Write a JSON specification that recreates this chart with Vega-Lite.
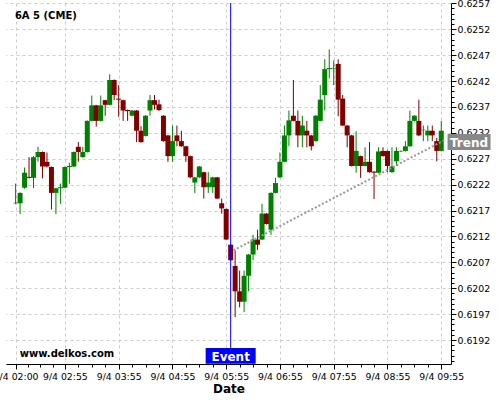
{
  "$schema": "https://vega.github.io/schema/vega-lite/v6.json",
  "width": 445,
  "height": 361,
  "autosize": {"type": "none"},
  "padding": {"left": 6, "top": 3, "right": 49, "bottom": 36},
  "background": "white",
  "config": {
    "font": "DejaVu Sans",
    "view": {"stroke": null},
    "axis": {"domainColor": "#000000", "tickColor": "#000000", "labelColor": "#000000", "titleColor": "#000000", "gridColor": "#cccccc", "gridDash": [3, 3]}
  },
  "datasets": {
    "candles": [
      {"t": "2015-09-04 02:00", "open": 0.62184, "high": 0.62222, "low": 0.62182, "close": 0.62185},
      {"t": "2015-09-04 02:05", "open": 0.62184, "high": 0.62205, "low": 0.62163, "close": 0.62204},
      {"t": "2015-09-04 02:10", "open": 0.62214, "high": 0.62253, "low": 0.62212, "close": 0.62243},
      {"t": "2015-09-04 02:15", "open": 0.62235, "high": 0.62273, "low": 0.62232, "close": 0.62233},
      {"t": "2015-09-04 02:20", "open": 0.62233, "high": 0.62275, "low": 0.62213, "close": 0.62273},
      {"t": "2015-09-04 02:25", "open": 0.62273, "high": 0.62293, "low": 0.62264, "close": 0.62283},
      {"t": "2015-09-04 02:30", "open": 0.62283, "high": 0.62284, "low": 0.62232, "close": 0.62255},
      {"t": "2015-09-04 02:35", "open": 0.62264, "high": 0.62282, "low": 0.62253, "close": 0.62255},
      {"t": "2015-09-04 02:40", "open": 0.62254, "high": 0.62255, "low": 0.62172, "close": 0.62204},
      {"t": "2015-09-04 02:45", "open": 0.62204, "high": 0.62214, "low": 0.62163, "close": 0.62213},
      {"t": "2015-09-04 02:50", "open": 0.62213, "high": 0.62222, "low": 0.62183, "close": 0.62215},
      {"t": "2015-09-04 02:55", "open": 0.62214, "high": 0.62255, "low": 0.62213, "close": 0.62254},
      {"t": "2015-09-04 03:00", "open": 0.62254, "high": 0.62262, "low": 0.62222, "close": 0.62256},
      {"t": "2015-09-04 03:05", "open": 0.62255, "high": 0.62284, "low": 0.62254, "close": 0.62283},
      {"t": "2015-09-04 03:10", "open": 0.62293, "high": 0.62302, "low": 0.62264, "close": 0.62283},
      {"t": "2015-09-04 03:15", "open": 0.62273, "high": 0.62293, "low": 0.62272, "close": 0.62283},
      {"t": "2015-09-04 03:20", "open": 0.62283, "high": 0.62344, "low": 0.62282, "close": 0.62343},
      {"t": "2015-09-04 03:25", "open": 0.62343, "high": 0.62392, "low": 0.62342, "close": 0.62373},
      {"t": "2015-09-04 03:30", "open": 0.62373, "high": 0.62374, "low": 0.62332, "close": 0.62343},
      {"t": "2015-09-04 03:35", "open": 0.62343, "high": 0.62392, "low": 0.62342, "close": 0.62373},
      {"t": "2015-09-04 03:40", "open": 0.62383, "high": 0.62384, "low": 0.62353, "close": 0.62374},
      {"t": "2015-09-04 03:45", "open": 0.62374, "high": 0.62433, "low": 0.62373, "close": 0.62422},
      {"t": "2015-09-04 03:50", "open": 0.62422, "high": 0.62423, "low": 0.62383, "close": 0.62393},
      {"t": "2015-09-04 03:55", "open": 0.62386, "high": 0.62412, "low": 0.62351, "close": 0.62384},
      {"t": "2015-09-04 04:00", "open": 0.62383, "high": 0.62384, "low": 0.62343, "close": 0.62363},
      {"t": "2015-09-04 04:05", "open": 0.62364, "high": 0.62365, "low": 0.62343, "close": 0.62362},
      {"t": "2015-09-04 04:10", "open": 0.62353, "high": 0.62364, "low": 0.62352, "close": 0.62363},
      {"t": "2015-09-04 04:15", "open": 0.62363, "high": 0.62364, "low": 0.62302, "close": 0.62324},
      {"t": "2015-09-04 04:20", "open": 0.62324, "high": 0.62333, "low": 0.62301, "close": 0.62302},
      {"t": "2015-09-04 04:25", "open": 0.62314, "high": 0.62354, "low": 0.62313, "close": 0.62353},
      {"t": "2015-09-04 04:30", "open": 0.62363, "high": 0.62393, "low": 0.62353, "close": 0.62383},
      {"t": "2015-09-04 04:35", "open": 0.62383, "high": 0.62393, "low": 0.62365, "close": 0.62374},
      {"t": "2015-09-04 04:40", "open": 0.62375, "high": 0.62384, "low": 0.62362, "close": 0.62364},
      {"t": "2015-09-04 04:45", "open": 0.62353, "high": 0.62354, "low": 0.62303, "close": 0.62304},
      {"t": "2015-09-04 04:50", "open": 0.62315, "high": 0.62316, "low": 0.62264, "close": 0.62275},
      {"t": "2015-09-04 04:55", "open": 0.62275, "high": 0.62334, "low": 0.62264, "close": 0.62304},
      {"t": "2015-09-04 05:00", "open": 0.62315, "high": 0.62334, "low": 0.62294, "close": 0.62304},
      {"t": "2015-09-04 05:05", "open": 0.62304, "high": 0.62324, "low": 0.62293, "close": 0.62294},
      {"t": "2015-09-04 05:10", "open": 0.62294, "high": 0.62295, "low": 0.62264, "close": 0.62275},
      {"t": "2015-09-04 05:15", "open": 0.62275, "high": 0.62276, "low": 0.62233, "close": 0.62234},
      {"t": "2015-09-04 05:20", "open": 0.62224, "high": 0.62235, "low": 0.62204, "close": 0.62234},
      {"t": "2015-09-04 05:25", "open": 0.62234, "high": 0.62256, "low": 0.62233, "close": 0.62255},
      {"t": "2015-09-04 05:30", "open": 0.62244, "high": 0.62245, "low": 0.62193, "close": 0.62215},
      {"t": "2015-09-04 05:35", "open": 0.62215, "high": 0.62244, "low": 0.62204, "close": 0.62224},
      {"t": "2015-09-04 05:40", "open": 0.62215, "high": 0.62235, "low": 0.62204, "close": 0.62234},
      {"t": "2015-09-04 05:45", "open": 0.62234, "high": 0.62235, "low": 0.62192, "close": 0.62193},
      {"t": "2015-09-04 05:50", "open": 0.62184, "high": 0.62193, "low": 0.62164, "close": 0.62174},
      {"t": "2015-09-04 05:55", "open": 0.62173, "high": 0.62174, "low": 0.62113, "close": 0.62114},
      {"t": "2015-09-04 06:00", "open": 0.62104, "high": 0.62105, "low": 0.62073, "close": 0.62074},
      {"t": "2015-09-04 06:05", "open": 0.62063, "high": 0.62093, "low": 0.61964, "close": 0.62014},
      {"t": "2015-09-04 06:10", "open": 0.62014, "high": 0.62054, "low": 0.61983, "close": 0.61994},
      {"t": "2015-09-04 06:15", "open": 0.61994, "high": 0.62054, "low": 0.61974, "close": 0.62044},
      {"t": "2015-09-04 06:20", "open": 0.62044, "high": 0.62086, "low": 0.62014, "close": 0.62085},
      {"t": "2015-09-04 06:25", "open": 0.62085, "high": 0.62123, "low": 0.62074, "close": 0.62114},
      {"t": "2015-09-04 06:30", "open": 0.62114, "high": 0.62133, "low": 0.62094, "close": 0.62104},
      {"t": "2015-09-04 06:35", "open": 0.62114, "high": 0.62183, "low": 0.62113, "close": 0.62164},
      {"t": "2015-09-04 06:40", "open": 0.62164, "high": 0.62165, "low": 0.62143, "close": 0.62144},
      {"t": "2015-09-04 06:45", "open": 0.62133, "high": 0.62205, "low": 0.62123, "close": 0.62204},
      {"t": "2015-09-04 06:50", "open": 0.62204, "high": 0.62233, "low": 0.62203, "close": 0.62223},
      {"t": "2015-09-04 06:55", "open": 0.62234, "high": 0.62282, "low": 0.62233, "close": 0.62264},
      {"t": "2015-09-04 07:00", "open": 0.62264, "high": 0.62334, "low": 0.62263, "close": 0.62315},
      {"t": "2015-09-04 07:05", "open": 0.62315, "high": 0.62363, "low": 0.62294, "close": 0.62344},
      {"t": "2015-09-04 07:10", "open": 0.62353, "high": 0.62422, "low": 0.62342, "close": 0.62343},
      {"t": "2015-09-04 07:15", "open": 0.62343, "high": 0.62363, "low": 0.62292, "close": 0.62315},
      {"t": "2015-09-04 07:20", "open": 0.62315, "high": 0.62353, "low": 0.62292, "close": 0.62334},
      {"t": "2015-09-04 07:25", "open": 0.62324, "high": 0.62343, "low": 0.62292, "close": 0.62315},
      {"t": "2015-09-04 07:30", "open": 0.62315, "high": 0.62316, "low": 0.62286, "close": 0.62294},
      {"t": "2015-09-04 07:35", "open": 0.62304, "high": 0.62354, "low": 0.62303, "close": 0.62353},
      {"t": "2015-09-04 07:40", "open": 0.62343, "high": 0.62412, "low": 0.62342, "close": 0.62384},
      {"t": "2015-09-04 07:45", "open": 0.62393, "high": 0.62462, "low": 0.62363, "close": 0.62443},
      {"t": "2015-09-04 07:50", "open": 0.62443, "high": 0.62481, "low": 0.62425, "close": 0.62445},
      {"t": "2015-09-04 07:55", "open": 0.62444, "high": 0.62460, "low": 0.62412, "close": 0.62445},
      {"t": "2015-09-04 08:00", "open": 0.62453, "high": 0.62462, "low": 0.62352, "close": 0.62384},
      {"t": "2015-09-04 08:05", "open": 0.62386, "high": 0.62393, "low": 0.62333, "close": 0.62334},
      {"t": "2015-09-04 08:10", "open": 0.62334, "high": 0.62335, "low": 0.62292, "close": 0.62315},
      {"t": "2015-09-04 08:15", "open": 0.62315, "high": 0.62316, "low": 0.62255, "close": 0.62256},
      {"t": "2015-09-04 08:20", "open": 0.62256, "high": 0.62323, "low": 0.62243, "close": 0.62285},
      {"t": "2015-09-04 08:25", "open": 0.62275, "high": 0.62276, "low": 0.62233, "close": 0.62256},
      {"t": "2015-09-04 08:30", "open": 0.62256, "high": 0.62292, "low": 0.62255, "close": 0.62264},
      {"t": "2015-09-04 08:35", "open": 0.62264, "high": 0.62302, "low": 0.62243, "close": 0.62244},
      {"t": "2015-09-04 08:40", "open": 0.62245, "high": 0.62246, "low": 0.62192, "close": 0.62243},
      {"t": "2015-09-04 08:45", "open": 0.62243, "high": 0.62292, "low": 0.62242, "close": 0.62284},
      {"t": "2015-09-04 08:50", "open": 0.62285, "high": 0.62292, "low": 0.62274, "close": 0.62275},
      {"t": "2015-09-04 08:55", "open": 0.62285, "high": 0.62286, "low": 0.62244, "close": 0.62256},
      {"t": "2015-09-04 09:00", "open": 0.62244, "high": 0.62292, "low": 0.62243, "close": 0.62255},
      {"t": "2015-09-04 09:05", "open": 0.62265, "high": 0.62292, "low": 0.62256, "close": 0.62285},
      {"t": "2015-09-04 09:10", "open": 0.62284, "high": 0.62286, "low": 0.62283, "close": 0.62285},
      {"t": "2015-09-04 09:15", "open": 0.62285, "high": 0.62304, "low": 0.62284, "close": 0.62294},
      {"t": "2015-09-04 09:20", "open": 0.62294, "high": 0.62363, "low": 0.62293, "close": 0.62343},
      {"t": "2015-09-04 09:25", "open": 0.62343, "high": 0.62354, "low": 0.62342, "close": 0.62353},
      {"t": "2015-09-04 09:30", "open": 0.62343, "high": 0.62384, "low": 0.62314, "close": 0.62315},
      {"t": "2015-09-04 09:35", "open": 0.62325, "high": 0.62334, "low": 0.62304, "close": 0.62326},
      {"t": "2015-09-04 09:40", "open": 0.62315, "high": 0.62334, "low": 0.62304, "close": 0.62324},
      {"t": "2015-09-04 09:45", "open": 0.62324, "high": 0.62334, "low": 0.62304, "close": 0.62315},
      {"t": "2015-09-04 09:50", "open": 0.62304, "high": 0.62310, "low": 0.62265, "close": 0.62285},
      {"t": "2015-09-04 09:55", "open": 0.62285, "high": 0.62343, "low": 0.62284, "close": 0.62324}
    ],
    "trend": [
      {"t": "2015-09-04 06:03", "price": 0.62093},
      {"t": "2015-09-04 10:00", "price": 0.62307}
    ]
  },
  "layer": [
    {
      "data": {"name": "candles"},
      "mark": {"type": "rule", "strokeWidth": 1},
      "encoding": {
        "x": {
          "field": "t", "type": "temporal",
          "scale": {"nice": false, "domain": [
            {"year": 2015, "month": 9, "date": 4, "hours": 1, "minutes": 54, "seconds": 52},
            {"year": 2015, "month": 9, "date": 4, "hours": 10, "minutes": 0, "seconds": 18}
          ]},
          "axis": {
            "title": "Date",
            "titleFontSize": 12,
            "titleFontWeight": "bold",
            "titlePadding": 2,
            "labelFontSize": 9.33,
            "labelPadding": 3,
            "labelFlush": false,
            "labelOverlap": false,
            "tickCount": 1000,
            "grid": true,
            "gridOpacity": {"condition": {"test": "minutes(datum.value) == 55 || (hours(datum.value) == 2 && minutes(datum.value) == 0)", "value": 1}, "value": 0},
            "tickSize": {"condition": {"test": "minutes(datum.value) == 55 || (hours(datum.value) == 2 && minutes(datum.value) == 0)", "value": 5}, "value": 3},
            "labelExpr": "(minutes(datum.value) == 55 || (hours(datum.value) == 2 && minutes(datum.value) == 0)) ? timeFormat(datum.value, '%-m/%-d %H:%M') : ''",
            "values": [
              {"year": 2015, "month": 9, "date": 4, "hours": 2, "minutes": 0},
              {"year": 2015, "month": 9, "date": 4, "hours": 2, "minutes": 13, "seconds": 45},
              {"year": 2015, "month": 9, "date": 4, "hours": 2, "minutes": 27, "seconds": 30},
              {"year": 2015, "month": 9, "date": 4, "hours": 2, "minutes": 41, "seconds": 15},
              {"year": 2015, "month": 9, "date": 4, "hours": 2, "minutes": 55},
              {"year": 2015, "month": 9, "date": 4, "hours": 3, "minutes": 10},
              {"year": 2015, "month": 9, "date": 4, "hours": 3, "minutes": 25},
              {"year": 2015, "month": 9, "date": 4, "hours": 3, "minutes": 40},
              {"year": 2015, "month": 9, "date": 4, "hours": 3, "minutes": 55},
              {"year": 2015, "month": 9, "date": 4, "hours": 4, "minutes": 10},
              {"year": 2015, "month": 9, "date": 4, "hours": 4, "minutes": 25},
              {"year": 2015, "month": 9, "date": 4, "hours": 4, "minutes": 40},
              {"year": 2015, "month": 9, "date": 4, "hours": 4, "minutes": 55},
              {"year": 2015, "month": 9, "date": 4, "hours": 5, "minutes": 10},
              {"year": 2015, "month": 9, "date": 4, "hours": 5, "minutes": 25},
              {"year": 2015, "month": 9, "date": 4, "hours": 5, "minutes": 40},
              {"year": 2015, "month": 9, "date": 4, "hours": 5, "minutes": 55},
              {"year": 2015, "month": 9, "date": 4, "hours": 6, "minutes": 10},
              {"year": 2015, "month": 9, "date": 4, "hours": 6, "minutes": 25},
              {"year": 2015, "month": 9, "date": 4, "hours": 6, "minutes": 40},
              {"year": 2015, "month": 9, "date": 4, "hours": 6, "minutes": 55},
              {"year": 2015, "month": 9, "date": 4, "hours": 7, "minutes": 10},
              {"year": 2015, "month": 9, "date": 4, "hours": 7, "minutes": 25},
              {"year": 2015, "month": 9, "date": 4, "hours": 7, "minutes": 40},
              {"year": 2015, "month": 9, "date": 4, "hours": 7, "minutes": 55},
              {"year": 2015, "month": 9, "date": 4, "hours": 8, "minutes": 10},
              {"year": 2015, "month": 9, "date": 4, "hours": 8, "minutes": 25},
              {"year": 2015, "month": 9, "date": 4, "hours": 8, "minutes": 40},
              {"year": 2015, "month": 9, "date": 4, "hours": 8, "minutes": 55},
              {"year": 2015, "month": 9, "date": 4, "hours": 9, "minutes": 10},
              {"year": 2015, "month": 9, "date": 4, "hours": 9, "minutes": 25},
              {"year": 2015, "month": 9, "date": 4, "hours": 9, "minutes": 40},
              {"year": 2015, "month": 9, "date": 4, "hours": 9, "minutes": 55}
            ]
          }
        },
        "y": {
          "field": "low", "type": "quantitative",
          "scale": {"zero": false, "nice": false, "domain": [0.618737, 0.625706]},
          "axis": {
            "orient": "right",
            "title": null,
            "labelFontSize": 9.33,
            "labelPadding": 1,
            "labelFlush": false,
            "labelOverlap": false,
            "tickCount": 1000,
            "grid": true,
            "gridOpacity": {"condition": {"test": "round(datum.value * 10000) % 5 == 2", "value": 1}, "value": 0},
            "tickSize": {"condition": {"test": "round(datum.value * 10000) % 5 == 2", "value": 5}, "value": 3},
            "labelExpr": "(round(datum.value * 10000) % 5 == 2) ? format(datum.value, '.4f') : ''",
            "values": [0.6188, 0.6189, 0.6190, 0.6191, 0.6192, 0.6193, 0.6194, 0.6195, 0.6196, 0.6197, 0.6198, 0.6199, 0.6200, 0.6201, 0.6202, 0.6203, 0.6204, 0.6205, 0.6206, 0.6207, 0.6208, 0.6209, 0.6210, 0.6211, 0.6212, 0.6213, 0.6214, 0.6215, 0.6216, 0.6217, 0.6218, 0.6219, 0.6220, 0.6221, 0.6222, 0.6223, 0.6224, 0.6225, 0.6226, 0.6227, 0.6228, 0.6229, 0.6230, 0.6231, 0.6232, 0.6233, 0.6234, 0.6235, 0.6236, 0.6237, 0.6238, 0.6239, 0.6240, 0.6241, 0.6242, 0.6243, 0.6244, 0.6245, 0.6246, 0.6247, 0.6248, 0.6249, 0.6250, 0.6251, 0.6252, 0.6253, 0.6254, 0.6255, 0.6256, 0.6257]
          }
        },
        "y2": {"field": "high"},
        "color": {"condition": {"test": "datum.close >= datum.open", "value": "#008000"}, "value": "#800000"}
      }
    },
    {
      "data": {"name": "candles"},
      "mark": {"type": "bar", "width": 5},
      "encoding": {
        "x": {"field": "t", "type": "temporal"},
        "y": {"field": "open", "type": "quantitative"},
        "y2": {"field": "close"},
        "color": {"condition": {"test": "datum.close >= datum.open", "value": "#008000"}, "value": "#800000"}
      }
    },
    {
      "data": {"name": "trend"},
      "mark": {"type": "line", "color": "#999999", "strokeWidth": 2, "strokeDash": [2, 2], "strokeCap": "butt"},
      "encoding": {
        "x": {"field": "t", "type": "temporal"},
        "y": {"field": "price", "type": "quantitative"}
      }
    },
    {
      "data": {"values": [{}]},
      "mark": {"type": "rule", "color": "#0000ff", "strokeWidth": 1},
      "encoding": {
        "x": {"datum": {"year": 2015, "month": 9, "date": 4, "hours": 6, "minutes": 0}, "type": "temporal"}
      }
    },
    {
      "data": {"values": [{}]},
      "mark": {"type": "bar", "width": 50, "color": "#0000ff"},
      "encoding": {
        "x": {"datum": {"year": 2015, "month": 9, "date": 4, "hours": 6, "minutes": 0}, "type": "temporal"},
        "y": {"datum": 0.61874},
        "y2": {"datum": 0.619046}
      }
    },
    {
      "data": {"values": [{}]},
      "mark": {"type": "text", "text": "Event", "color": "#ffffff", "fontSize": 12, "fontWeight": "bold", "align": "center", "baseline": "alphabetic"},
      "encoding": {
        "x": {"datum": {"year": 2015, "month": 9, "date": 4, "hours": 6, "minutes": 0}, "type": "temporal"},
        "y": {"datum": 0.618804}
      }
    },
    {
      "data": {"values": [{}]},
      "mark": {"type": "bar", "width": 43, "color": "#888888"},
      "encoding": {
        "x": {"datum": {"year": 2015, "month": 9, "date": 4, "hours": 10, "minutes": 26}, "type": "temporal"},
        "y": {"datum": 0.622868},
        "y2": {"datum": 0.623177}
      }
    },
    {
      "data": {"values": [{}]},
      "mark": {"type": "text", "text": "Trend", "color": "#ffffff", "fontSize": 12, "fontWeight": "bold", "align": "center", "baseline": "alphabetic"},
      "encoding": {
        "x": {"datum": {"year": 2015, "month": 9, "date": 4, "hours": 10, "minutes": 26}, "type": "temporal"},
        "y": {"datum": 0.62292}
      }
    },
    {
      "data": {"values": [{}]},
      "mark": {"type": "text", "text": "6A 5 (CME)", "color": "#000000", "fontSize": 10, "fontWeight": "bold", "align": "left", "baseline": "alphabetic"},
      "encoding": {
        "x": {"datum": {"year": 2015, "month": 9, "date": 4, "hours": 1, "minutes": 59, "seconds": 14}, "type": "temporal"},
        "y": {"datum": 0.625403}
      }
    },
    {
      "data": {"values": [{}]},
      "mark": {"type": "text", "text": "www.delkos.com", "color": "#000000", "fontSize": 10, "fontWeight": "bold", "align": "left", "baseline": "alphabetic"},
      "encoding": {
        "x": {"datum": {"year": 2015, "month": 9, "date": 4, "hours": 2, "minutes": 4, "seconds": 41}, "type": "temporal"},
        "y": {"datum": 0.618866}
      }
    }
  ]
}
